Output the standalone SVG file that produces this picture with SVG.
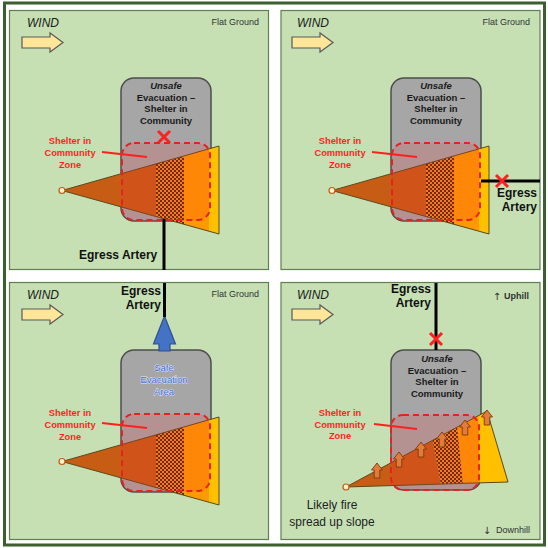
<svg xmlns="http://www.w3.org/2000/svg" xmlns:xlink="http://www.w3.org/1999/xlink" width="548" height="548" viewBox="0 0 548 548">
<style>
.panel{fill:#c6e0b4;stroke:#5f7f4f;stroke-width:1.2}
.wind{font-family:"Liberation Sans",Arial,sans-serif;font-style:italic;font-size:12px;fill:#1a1a1a}
.flat{font-family:"Liberation Sans",Arial,sans-serif;font-size:9px;fill:#333}
.arr{font-family:"DejaVu Sans","Liberation Sans",sans-serif;font-size:10px;fill:#333;text-anchor:middle}
.gray{fill:#a6a6a6;stroke:#4d4d4d;stroke-width:1.5}
.gtxt{font-family:"Liberation Sans",Arial,sans-serif;font-weight:bold;font-size:9.5px;fill:#1a1a1a;text-anchor:middle}
.rtxt{font-family:"Liberation Sans",Arial,sans-serif;font-weight:bold;font-size:9.3px;fill:#ff1f1f;text-anchor:middle}
.btxt{font-family:"Liberation Sans",Arial,sans-serif;font-size:9.5px;fill:#3d6cc4;stroke:#e8eefc;stroke-width:0.8;paint-order:stroke;text-anchor:middle}
.etxt{font-family:"Liberation Sans",Arial,sans-serif;font-weight:bold;font-size:12px;fill:#111}
.ltxt{font-family:"Liberation Sans",Arial,sans-serif;font-size:12px;fill:#222;text-anchor:middle}
.zone{fill:#ff3030;fill-opacity:0.17;stroke:#e82020;stroke-width:2;stroke-dasharray:6 4}
.road{stroke:#000;stroke-width:3;fill:none}
.lead{stroke:#ff1f1f;stroke-width:2}
.xm{stroke:#ff2020;stroke-width:3;stroke-linecap:butt}
.out{fill:none;stroke:#5a4a1a;stroke-width:1}
.apex{fill:#fff2cc;stroke:#c55a11;stroke-width:1.2}
.up{fill:#e07b39;stroke:#7a3a10;stroke-width:0.9}
</style>
<defs>
<pattern id="chk" width="4" height="4" patternUnits="userSpaceOnUse">
<rect width="4" height="4" fill="#f08a20"/>
<rect width="2" height="2" fill="#5c2a0c"/>
<rect x="2" y="2" width="2" height="2" fill="#5c2a0c"/>
</pattern>
<clipPath id="coneClip"><polygon points="62,190.5 219,146 219,234"/></clipPath>
<clipPath id="slopeClip"><polygon points="346,487 487,411 508,482"/></clipPath>
<g id="cone">
<g clip-path="url(#coneClip)">
<rect x="60" y="140" width="96" height="100" fill="#c75c15"/>
<rect x="156" y="140" width="28" height="100" fill="url(#chk)"/>
<rect x="184" y="140" width="25" height="100" fill="#ff9900"/>
<rect x="209" y="140" width="12" height="100" fill="#ffc000"/>
</g>
<polygon class="out" points="62,190.5 219,146 219,234"/>
</g>
<path id="windArrow" d="M22,37 H50 V33 L63,42.5 L50,52 V48 H22 Z" fill="#ffe699" stroke="#595959" stroke-width="1.2"/>
<path id="upArrow" d="M0,0 L5.5,7 H2.8 V15 H-2.8 V7 H-5.5 Z"/>
<g id="redX"><line class="xm" x1="-6" y1="-6" x2="6" y2="6"/><line class="xm" x1="6" y1="-6" x2="-6" y2="6"/></g>
</defs>

<rect x="4.5" y="3" width="540" height="542" fill="#ffffff" stroke="#3d5e2e" stroke-width="3"/>

<!-- Top-left panel -->
<g id="panel-tl">
<rect class="panel" x="9.5" y="10.5" width="259" height="259"/>
<text class="wind" x="27" y="27">WIND</text>
<use xlink:href="#windArrow"/>
<text class="flat" x="259" y="25" text-anchor="end">Flat Ground</text>
<g id="tl-community">
<rect class="gray" x="121" y="78" width="90" height="143" rx="13"/>
<text class="gtxt" x="166" y="89" font-style="italic">Unsafe</text>
<text class="gtxt" x="166" y="100.5">Evacuation –</text>
<text class="gtxt" x="166" y="112">Shelter in</text>
<text class="gtxt" x="166" y="123.5">Community</text>
</g>
<g id="tl-fire"><use xlink:href="#cone"/></g>
<g id="tl-zone">
<rect class="zone" x="122" y="143" width="88" height="77" rx="12"/>
<text class="rtxt" x="70" y="144">Shelter in</text>
<text class="rtxt" x="70" y="156">Community</text>
<text class="rtxt" x="70" y="167.5">Zone</text>
</g>
<circle class="apex" cx="62" cy="190.5" r="3"/>
<use xlink:href="#redX" x="164" y="137"/>
<text class="etxt" x="79" y="259">Egress Artery</text>
</g>

<!-- Top-right panel -->
<g id="panel-tr">
<rect class="panel" x="281" y="10.5" width="259" height="259"/>
<text class="wind" x="297" y="27">WIND</text>
<use xlink:href="#windArrow" x="270"/>
<text class="flat" x="530" y="25" text-anchor="end">Flat Ground</text>
<g id="tr-community">
<rect class="gray" x="391" y="78" width="90" height="143" rx="13"/>
<text class="gtxt" x="436" y="89" font-style="italic">Unsafe</text>
<text class="gtxt" x="436" y="100.5">Evacuation –</text>
<text class="gtxt" x="436" y="112">Shelter in</text>
<text class="gtxt" x="436" y="123.5">Community</text>
</g>
<g id="tr-fire"><use xlink:href="#cone" x="270"/></g>
<g id="tr-zone">
<rect class="zone" x="392" y="143" width="88" height="77" rx="12"/>
<text class="rtxt" x="340" y="144">Shelter in</text>
<text class="rtxt" x="340" y="156">Community</text>
<text class="rtxt" x="340" y="167.5">Zone</text>
</g>
<circle class="apex" cx="332" cy="190.5" r="3"/>
<text class="etxt" x="537" y="197" text-anchor="end">Egress</text>
<text class="etxt" x="537" y="211" text-anchor="end">Artery</text>
</g>

<!-- Bottom-left panel -->
<g id="panel-bl">
<rect class="panel" x="9.5" y="282.5" width="259" height="257"/>
<text class="wind" x="27" y="299">WIND</text>
<use xlink:href="#windArrow" y="272"/>
<text class="flat" x="259" y="297" text-anchor="end">Flat Ground</text>
<g id="bl-community">
<rect class="gray" x="121" y="350" width="90" height="142" rx="13"/>
<path d="M164.5,316 L175.5,344 H170 V351 H159 V344 H153.5 Z" fill="#4472c4" stroke="#2f528f" stroke-width="1.2"/>
<text class="btxt" x="164" y="371">Safe</text>
<text class="btxt" x="164" y="383">Evacuation</text>
<text class="btxt" x="164" y="394.5">Area</text>
</g>
<g id="bl-fire"><use xlink:href="#cone" y="271"/></g>
<g id="bl-zone">
<rect class="zone" x="122" y="414" width="88" height="77" rx="12"/>
<text class="rtxt" x="70" y="416">Shelter in</text>
<text class="rtxt" x="70" y="428">Community</text>
<text class="rtxt" x="70" y="439.5">Zone</text>
</g>
<circle class="apex" cx="62" cy="461.5" r="3"/>
<text class="etxt" x="161" y="295" text-anchor="end">Egress</text>
<text class="etxt" x="161" y="309" text-anchor="end">Artery</text>
</g>

<!-- Bottom-right panel -->
<g id="panel-br">
<rect class="panel" x="281" y="282.5" width="259" height="257"/>
<text class="wind" x="297" y="299">WIND</text>
<use xlink:href="#windArrow" x="270" y="272"/>
<text class="arr" x="497" y="300">↑</text>
<text class="flat" x="504" y="299" font-weight="bold">Uphill</text>
<text class="arr" x="487" y="534">↓</text>
<text class="flat" x="496" y="533">Downhill</text>
<g id="br-community">
<rect class="gray" x="391" y="350" width="90" height="140" rx="13"/>
<text class="gtxt" x="437" y="362" font-style="italic">Unsafe</text>
<text class="gtxt" x="437" y="373.5">Evacuation –</text>
<text class="gtxt" x="437" y="385">Shelter in</text>
<text class="gtxt" x="437" y="396.5">Community</text>
</g>
<g id="br-fire">
<g clip-path="url(#slopeClip)">
<polygon points="330,400 424.7,400 442.2,490 330,490" fill="#c75c15"/>
<polygon points="424.7,400 454.5,400 463.7,490 442.2,490" fill="url(#chk)"/>
<polygon points="454.5,400 478,400 480,490 463.7,490" fill="#ff9900"/>
<polygon points="478,400 520,400 520,490 480,490" fill="#ffc000"/>
</g>
<polygon class="out" points="346,487 487,411 508,482"/>
</g>
<g id="br-zone">
<rect class="zone" x="391" y="415" width="88" height="75" rx="12"/>
<text class="rtxt" x="340" y="416">Shelter in</text>
<text class="rtxt" x="340" y="427.5">Community</text>
<text class="rtxt" x="340" y="439">Zone</text>
</g>
<g id="br-spread" class="up">
<use xlink:href="#upArrow" x="377" y="463"/>
<use xlink:href="#upArrow" x="399" y="452"/>
<use xlink:href="#upArrow" x="421" y="442"/>
<use xlink:href="#upArrow" x="442" y="432"/>
<use xlink:href="#upArrow" x="465" y="420"/>
<use xlink:href="#upArrow" x="487" y="410"/>
</g>
<circle class="apex" cx="346" cy="487" r="3"/>
<text class="etxt" x="431" y="293" text-anchor="end">Egress</text>
<text class="etxt" x="431" y="307" text-anchor="end">Artery</text>
<text class="ltxt" x="332" y="509">Likely fire</text>
<text class="ltxt" x="332" y="526">spread up slope</text>
</g>

<!-- Connectors -->
<g id="connectors">
<line class="road" x1="164" y1="218.8" x2="164" y2="270"/>
<line class="road" x1="481" y1="181" x2="540" y2="181"/>
<line class="road" x1="164.5" y1="283" x2="164.5" y2="317"/>
<line class="road" x1="436" y1="283" x2="436" y2="350"/>
<line class="lead" x1="102" y1="152" x2="147" y2="157"/>
<line class="lead" x1="372" y1="152" x2="417" y2="157"/>
<line class="lead" x1="102" y1="423" x2="147" y2="428"/>
<line class="lead" x1="374" y1="424" x2="417" y2="429"/>
<use xlink:href="#redX" x="502" y="181"/>
<use xlink:href="#redX" x="436" y="339"/>
</g>
</svg>
